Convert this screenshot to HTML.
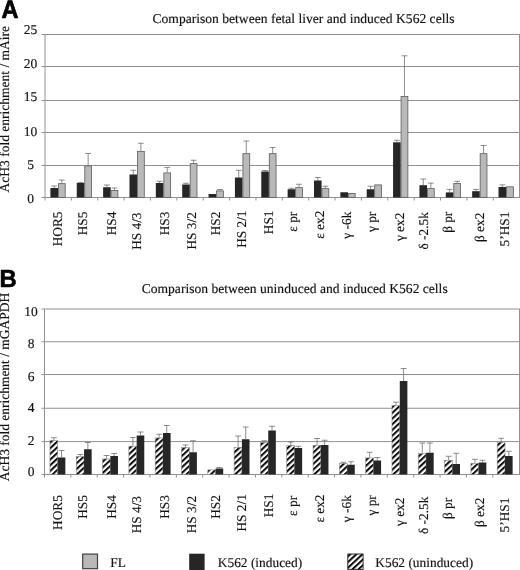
<!DOCTYPE html>
<html><head><meta charset="utf-8"><title>Figure</title>
<style>
html,body{margin:0;padding:0;background:#fff;}
body{width:520px;height:570px;overflow:hidden;}
svg{display:block;will-change:transform;}
text{font-family:"Liberation Serif",serif;fill:#111;stroke:#111;stroke-width:0.15px;text-rendering:geometricPrecision;}
.b{font-family:"Liberation Sans",sans-serif;font-weight:bold;fill:#000;stroke:#000;stroke-width:0.35px;}
</style></head><body>
<svg width="520" height="570" viewBox="0 0 520 570">
<defs><pattern id="h" width="4.15" height="4.15" patternUnits="userSpaceOnUse" patternTransform="rotate(-43)"><rect width="4.15" height="4.15" fill="#fff"/><rect width="4.15" height="2" fill="#0a0a0a"/></pattern></defs>
<rect width="520" height="570" fill="#fff"/>
<g>
<line x1="41.5" y1="34.5" x2="520" y2="34.5" stroke="#909090" stroke-width="1"/>
<line x1="41.5" y1="66.5" x2="520" y2="66.5" stroke="#909090" stroke-width="1"/>
<line x1="41.5" y1="100.5" x2="520" y2="100.5" stroke="#909090" stroke-width="1"/>
<line x1="41.5" y1="132.5" x2="520" y2="132.5" stroke="#909090" stroke-width="1"/>
<line x1="41.5" y1="165.5" x2="520" y2="165.5" stroke="#909090" stroke-width="1"/>
<line x1="41.5" y1="197.5" x2="520" y2="197.5" stroke="#909090" stroke-width="1"/>
<line x1="45" y1="34.5" x2="45" y2="200.5" stroke="#909090" stroke-width="1"/>
<line x1="519.5" y1="34.5" x2="519.5" y2="197.5" stroke="#909090" stroke-width="1"/>
<line x1="71.37" y1="197.5" x2="71.37" y2="200.5" stroke="#909090" stroke-width="1"/>
<line x1="97.74" y1="197.5" x2="97.74" y2="200.5" stroke="#909090" stroke-width="1"/>
<line x1="124.11" y1="197.5" x2="124.11" y2="200.5" stroke="#909090" stroke-width="1"/>
<line x1="150.48" y1="197.5" x2="150.48" y2="200.5" stroke="#909090" stroke-width="1"/>
<line x1="176.85" y1="197.5" x2="176.85" y2="200.5" stroke="#909090" stroke-width="1"/>
<line x1="203.22" y1="197.5" x2="203.22" y2="200.5" stroke="#909090" stroke-width="1"/>
<line x1="229.59" y1="197.5" x2="229.59" y2="200.5" stroke="#909090" stroke-width="1"/>
<line x1="255.96" y1="197.5" x2="255.96" y2="200.5" stroke="#909090" stroke-width="1"/>
<line x1="282.33" y1="197.5" x2="282.33" y2="200.5" stroke="#909090" stroke-width="1"/>
<line x1="308.7" y1="197.5" x2="308.7" y2="200.5" stroke="#909090" stroke-width="1"/>
<line x1="335.07" y1="197.5" x2="335.07" y2="200.5" stroke="#909090" stroke-width="1"/>
<line x1="361.44" y1="197.5" x2="361.44" y2="200.5" stroke="#909090" stroke-width="1"/>
<line x1="387.81" y1="197.5" x2="387.81" y2="200.5" stroke="#909090" stroke-width="1"/>
<line x1="414.18" y1="197.5" x2="414.18" y2="200.5" stroke="#909090" stroke-width="1"/>
<line x1="440.55" y1="197.5" x2="440.55" y2="200.5" stroke="#909090" stroke-width="1"/>
<line x1="466.92" y1="197.5" x2="466.92" y2="200.5" stroke="#909090" stroke-width="1"/>
<line x1="493.29" y1="197.5" x2="493.29" y2="200.5" stroke="#909090" stroke-width="1"/>
<path d="M54.2 188V186M51.3 186H57.1" stroke="#5e5e5e" stroke-width="0.7" fill="none"/><path d="M61.8 183.25V180M58.9 180H64.7" stroke="#5e5e5e" stroke-width="0.7" fill="none"/><rect x="50.4" y="188" width="7.6" height="9.5" fill="#262626"/><rect x="58.4" y="183.65" width="6.8" height="13.85" fill="#b9b9b9" stroke="#5c5c5c" stroke-width="0.8"/>
<path d="M80.56 183V182.5M77.66 182.5H83.46" stroke="#5e5e5e" stroke-width="0.7" fill="none"/><path d="M88.16 165.5V153.5M85.26 153.5H91.06" stroke="#5e5e5e" stroke-width="0.7" fill="none"/><rect x="76.76" y="183" width="7.6" height="14.5" fill="#262626"/><rect x="84.76" y="165.9" width="6.8" height="31.6" fill="#b9b9b9" stroke="#5c5c5c" stroke-width="0.8"/>
<path d="M106.92 187.25V185M104.02 185H109.82" stroke="#5e5e5e" stroke-width="0.7" fill="none"/><path d="M114.52 190V188M111.62 188H117.42" stroke="#5e5e5e" stroke-width="0.7" fill="none"/><rect x="103.12" y="187.25" width="7.6" height="10.25" fill="#262626"/><rect x="111.12" y="190.4" width="6.8" height="7.1" fill="#b9b9b9" stroke="#5c5c5c" stroke-width="0.8"/>
<path d="M133.28 174.5V170.25M130.38 170.25H136.18" stroke="#5e5e5e" stroke-width="0.7" fill="none"/><path d="M140.88 151V143.25M137.98 143.25H143.78" stroke="#5e5e5e" stroke-width="0.7" fill="none"/><rect x="129.48" y="174.5" width="7.6" height="23" fill="#262626"/><rect x="137.48" y="151.4" width="6.8" height="46.1" fill="#b9b9b9" stroke="#5c5c5c" stroke-width="0.8"/>
<path d="M159.64 183V181.25M156.74 181.25H162.54" stroke="#5e5e5e" stroke-width="0.7" fill="none"/><path d="M167.24 172.5V167.4M164.34 167.4H170.14" stroke="#5e5e5e" stroke-width="0.7" fill="none"/><rect x="155.84" y="183" width="7.6" height="14.5" fill="#262626"/><rect x="163.84" y="172.9" width="6.8" height="24.6" fill="#b9b9b9" stroke="#5c5c5c" stroke-width="0.8"/>
<path d="M186 184.5V183.25M183.1 183.25H188.9" stroke="#5e5e5e" stroke-width="0.7" fill="none"/><path d="M193.6 163.25V160.25M190.7 160.25H196.5" stroke="#5e5e5e" stroke-width="0.7" fill="none"/><rect x="182.2" y="184.5" width="7.6" height="13" fill="#262626"/><rect x="190.2" y="163.65" width="6.8" height="33.85" fill="#b9b9b9" stroke="#5c5c5c" stroke-width="0.8"/>
<path d="M219.96 190.5V189.5M217.06 189.5H222.86" stroke="#5e5e5e" stroke-width="0.7" fill="none"/><rect x="208.56" y="194" width="7.6" height="3.5" fill="#262626"/><rect x="216.56" y="190.9" width="6.8" height="6.6" fill="#b9b9b9" stroke="#5c5c5c" stroke-width="0.8"/>
<path d="M238.72 177.5V170.25M235.82 170.25H241.62" stroke="#5e5e5e" stroke-width="0.7" fill="none"/><path d="M246.32 153.25V141M243.42 141H249.22" stroke="#5e5e5e" stroke-width="0.7" fill="none"/><rect x="234.92" y="177.5" width="7.6" height="20" fill="#262626"/><rect x="242.92" y="153.65" width="6.8" height="43.85" fill="#b9b9b9" stroke="#5c5c5c" stroke-width="0.8"/>
<path d="M265.08 171.5V170.5M262.18 170.5H267.98" stroke="#5e5e5e" stroke-width="0.7" fill="none"/><path d="M272.68 153.25V147.5M269.78 147.5H275.58" stroke="#5e5e5e" stroke-width="0.7" fill="none"/><rect x="261.28" y="171.5" width="7.6" height="26" fill="#262626"/><rect x="269.28" y="153.65" width="6.8" height="43.85" fill="#b9b9b9" stroke="#5c5c5c" stroke-width="0.8"/>
<path d="M291.44 189.25V188.25M288.54 188.25H294.34" stroke="#5e5e5e" stroke-width="0.7" fill="none"/><path d="M299.04 187.25V184.25M296.14 184.25H301.94" stroke="#5e5e5e" stroke-width="0.7" fill="none"/><rect x="287.64" y="189.25" width="7.6" height="8.25" fill="#262626"/><rect x="295.64" y="187.65" width="6.8" height="9.85" fill="#b9b9b9" stroke="#5c5c5c" stroke-width="0.8"/>
<path d="M317.8 180.5V177.5M314.9 177.5H320.7" stroke="#5e5e5e" stroke-width="0.7" fill="none"/><path d="M325.4 188.25V186.25M322.5 186.25H328.3" stroke="#5e5e5e" stroke-width="0.7" fill="none"/><rect x="314" y="180.5" width="7.6" height="17" fill="#262626"/><rect x="322" y="188.65" width="6.8" height="8.85" fill="#b9b9b9" stroke="#5c5c5c" stroke-width="0.8"/>
<rect x="340.36" y="192.25" width="7.6" height="5.25" fill="#262626"/><rect x="348.36" y="193.4" width="6.8" height="4.1" fill="#b9b9b9" stroke="#5c5c5c" stroke-width="0.8"/>
<path d="M370.52 189.25V186.25M367.62 186.25H373.42" stroke="#5e5e5e" stroke-width="0.7" fill="none"/><rect x="366.72" y="189.25" width="7.6" height="8.25" fill="#262626"/><rect x="374.72" y="184.9" width="6.8" height="12.6" fill="#b9b9b9" stroke="#5c5c5c" stroke-width="0.8"/>
<path d="M396.88 142.3V140.25M393.98 140.25H399.78" stroke="#5e5e5e" stroke-width="0.7" fill="none"/><path d="M404.48 96.05V55.8M401.58 55.8H407.38" stroke="#5e5e5e" stroke-width="0.7" fill="none"/><rect x="393.08" y="142.3" width="7.6" height="55.2" fill="#262626"/><rect x="401.08" y="96.45" width="6.8" height="101.05" fill="#b9b9b9" stroke="#5c5c5c" stroke-width="0.8"/>
<path d="M423.24 185.2V179M420.34 179H426.14" stroke="#5e5e5e" stroke-width="0.7" fill="none"/><path d="M430.84 188.2V183.1M427.94 183.1H433.74" stroke="#5e5e5e" stroke-width="0.7" fill="none"/><rect x="419.44" y="185.2" width="7.6" height="12.3" fill="#262626"/><rect x="427.44" y="188.6" width="6.8" height="8.9" fill="#b9b9b9" stroke="#5c5c5c" stroke-width="0.8"/>
<path d="M449.6 192.4V189.4M446.7 189.4H452.5" stroke="#5e5e5e" stroke-width="0.7" fill="none"/><path d="M457.2 183.1V181.3M454.3 181.3H460.1" stroke="#5e5e5e" stroke-width="0.7" fill="none"/><rect x="445.8" y="192.4" width="7.6" height="5.1" fill="#262626"/><rect x="453.8" y="183.5" width="6.8" height="14" fill="#b9b9b9" stroke="#5c5c5c" stroke-width="0.8"/>
<path d="M475.96 191.2V189.4M473.06 189.4H478.86" stroke="#5e5e5e" stroke-width="0.7" fill="none"/><path d="M483.56 153.3V145.5M480.66 145.5H486.46" stroke="#5e5e5e" stroke-width="0.7" fill="none"/><rect x="472.16" y="191.2" width="7.6" height="6.3" fill="#262626"/><rect x="480.16" y="153.7" width="6.8" height="43.8" fill="#b9b9b9" stroke="#5c5c5c" stroke-width="0.8"/>
<path d="M502.32 187V184.9M499.42 184.9H505.22" stroke="#5e5e5e" stroke-width="0.7" fill="none"/><rect x="498.52" y="187" width="7.6" height="10.5" fill="#262626"/><rect x="506.52" y="186.8" width="6.8" height="10.7" fill="#b9b9b9" stroke="#5c5c5c" stroke-width="0.8"/>
</g>
<g>
<line x1="41.5" y1="309" x2="520" y2="309" stroke="#909090" stroke-width="1"/>
<line x1="41.5" y1="341.75" x2="520" y2="341.75" stroke="#909090" stroke-width="1"/>
<line x1="41.5" y1="374.5" x2="520" y2="374.5" stroke="#909090" stroke-width="1"/>
<line x1="41.5" y1="408.25" x2="520" y2="408.25" stroke="#909090" stroke-width="1"/>
<line x1="41.5" y1="441.6" x2="520" y2="441.6" stroke="#909090" stroke-width="1"/>
<line x1="41.5" y1="474.5" x2="520" y2="474.5" stroke="#909090" stroke-width="1"/>
<line x1="44.5" y1="309" x2="44.5" y2="477.5" stroke="#909090" stroke-width="1"/>
<line x1="519.5" y1="309" x2="519.5" y2="474.5" stroke="#909090" stroke-width="1"/>
<line x1="70.87" y1="474.5" x2="70.87" y2="477.5" stroke="#909090" stroke-width="1"/>
<line x1="97.24" y1="474.5" x2="97.24" y2="477.5" stroke="#909090" stroke-width="1"/>
<line x1="123.61" y1="474.5" x2="123.61" y2="477.5" stroke="#909090" stroke-width="1"/>
<line x1="149.98" y1="474.5" x2="149.98" y2="477.5" stroke="#909090" stroke-width="1"/>
<line x1="176.35" y1="474.5" x2="176.35" y2="477.5" stroke="#909090" stroke-width="1"/>
<line x1="202.72" y1="474.5" x2="202.72" y2="477.5" stroke="#909090" stroke-width="1"/>
<line x1="229.09" y1="474.5" x2="229.09" y2="477.5" stroke="#909090" stroke-width="1"/>
<line x1="255.46" y1="474.5" x2="255.46" y2="477.5" stroke="#909090" stroke-width="1"/>
<line x1="281.83" y1="474.5" x2="281.83" y2="477.5" stroke="#909090" stroke-width="1"/>
<line x1="308.2" y1="474.5" x2="308.2" y2="477.5" stroke="#909090" stroke-width="1"/>
<line x1="334.57" y1="474.5" x2="334.57" y2="477.5" stroke="#909090" stroke-width="1"/>
<line x1="360.94" y1="474.5" x2="360.94" y2="477.5" stroke="#909090" stroke-width="1"/>
<line x1="387.31" y1="474.5" x2="387.31" y2="477.5" stroke="#909090" stroke-width="1"/>
<line x1="413.68" y1="474.5" x2="413.68" y2="477.5" stroke="#909090" stroke-width="1"/>
<line x1="440.05" y1="474.5" x2="440.05" y2="477.5" stroke="#909090" stroke-width="1"/>
<line x1="466.42" y1="474.5" x2="466.42" y2="477.5" stroke="#909090" stroke-width="1"/>
<line x1="492.79" y1="474.5" x2="492.79" y2="477.5" stroke="#909090" stroke-width="1"/>
<path d="M53.95 440V437.75M51.05 437.75H56.85" stroke="#5e5e5e" stroke-width="0.7" fill="none"/><path d="M61.55 457.5V450.5M58.65 450.5H64.45" stroke="#5e5e5e" stroke-width="0.7" fill="none"/><rect x="49.95" y="440.4" width="7.8" height="34.1" fill="url(#h)" stroke="#888" stroke-width="0.6"/><rect x="57.75" y="457.5" width="7.6" height="17" fill="#262626"/>
<path d="M80.26 456.25V454.5M77.36 454.5H83.16" stroke="#5e5e5e" stroke-width="0.7" fill="none"/><path d="M87.86 449.25V442.5M84.96 442.5H90.76" stroke="#5e5e5e" stroke-width="0.7" fill="none"/><rect x="76.26" y="456.65" width="7.8" height="17.85" fill="url(#h)" stroke="#888" stroke-width="0.6"/><rect x="84.06" y="449.25" width="7.6" height="25.25" fill="#262626"/>
<path d="M106.57 458.5V455.5M103.67 455.5H109.47" stroke="#5e5e5e" stroke-width="0.7" fill="none"/><path d="M114.17 456V453.5M111.27 453.5H117.07" stroke="#5e5e5e" stroke-width="0.7" fill="none"/><rect x="102.57" y="458.9" width="7.8" height="15.6" fill="url(#h)" stroke="#888" stroke-width="0.6"/><rect x="110.37" y="456" width="7.6" height="18.5" fill="#262626"/>
<path d="M132.88 445.75V437.5M129.98 437.5H135.78" stroke="#5e5e5e" stroke-width="0.7" fill="none"/><path d="M140.48 435.5V432M137.58 432H143.38" stroke="#5e5e5e" stroke-width="0.7" fill="none"/><rect x="128.88" y="446.15" width="7.8" height="28.35" fill="url(#h)" stroke="#888" stroke-width="0.6"/><rect x="136.68" y="435.5" width="7.6" height="39" fill="#262626"/>
<path d="M159.19 437.5V434.25M156.29 434.25H162.09" stroke="#5e5e5e" stroke-width="0.7" fill="none"/><path d="M166.79 433V425.5M163.89 425.5H169.69" stroke="#5e5e5e" stroke-width="0.7" fill="none"/><rect x="155.19" y="437.9" width="7.8" height="36.6" fill="url(#h)" stroke="#888" stroke-width="0.6"/><rect x="162.99" y="433" width="7.6" height="41.5" fill="#262626"/>
<path d="M185.5 447V445M182.6 445H188.4" stroke="#5e5e5e" stroke-width="0.7" fill="none"/><path d="M193.1 452.25V440.75M190.2 440.75H196" stroke="#5e5e5e" stroke-width="0.7" fill="none"/><rect x="181.5" y="447.4" width="7.8" height="27.1" fill="url(#h)" stroke="#888" stroke-width="0.6"/><rect x="189.3" y="452.25" width="7.6" height="22.25" fill="#262626"/>
<path d="M219.41 468.5V467.5M216.51 467.5H222.31" stroke="#5e5e5e" stroke-width="0.7" fill="none"/><rect x="207.81" y="469.9" width="7.8" height="4.6" fill="url(#h)" stroke="#888" stroke-width="0.6"/><rect x="215.61" y="468.5" width="7.6" height="6" fill="#262626"/>
<path d="M238.12 447V436M235.22 436H241.02" stroke="#5e5e5e" stroke-width="0.7" fill="none"/><path d="M245.72 439.25V427M242.82 427H248.62" stroke="#5e5e5e" stroke-width="0.7" fill="none"/><rect x="234.12" y="447.4" width="7.8" height="27.1" fill="url(#h)" stroke="#888" stroke-width="0.6"/><rect x="241.92" y="439.25" width="7.6" height="35.25" fill="#262626"/>
<path d="M264.43 442V440.75M261.53 440.75H267.33" stroke="#5e5e5e" stroke-width="0.7" fill="none"/><path d="M272.03 430.5V426.25M269.13 426.25H274.93" stroke="#5e5e5e" stroke-width="0.7" fill="none"/><rect x="260.43" y="442.4" width="7.8" height="32.1" fill="url(#h)" stroke="#888" stroke-width="0.6"/><rect x="268.23" y="430.5" width="7.6" height="44" fill="#262626"/>
<path d="M290.74 445V442M287.84 442H293.64" stroke="#5e5e5e" stroke-width="0.7" fill="none"/><path d="M298.34 448V446.25M295.44 446.25H301.24" stroke="#5e5e5e" stroke-width="0.7" fill="none"/><rect x="286.74" y="445.4" width="7.8" height="29.1" fill="url(#h)" stroke="#888" stroke-width="0.6"/><rect x="294.54" y="448" width="7.6" height="26.5" fill="#262626"/>
<path d="M317.05 445V438.5M314.15 438.5H319.95" stroke="#5e5e5e" stroke-width="0.7" fill="none"/><path d="M324.65 445V440.25M321.75 440.25H327.55" stroke="#5e5e5e" stroke-width="0.7" fill="none"/><rect x="313.05" y="445.4" width="7.8" height="29.1" fill="url(#h)" stroke="#888" stroke-width="0.6"/><rect x="320.85" y="445" width="7.6" height="29.5" fill="#262626"/>
<path d="M343.36 463V462.3M340.46 462.3H346.26" stroke="#5e5e5e" stroke-width="0.7" fill="none"/><path d="M350.96 464.75V461.75M348.06 461.75H353.86" stroke="#5e5e5e" stroke-width="0.7" fill="none"/><rect x="339.36" y="463.4" width="7.8" height="11.1" fill="url(#h)" stroke="#888" stroke-width="0.6"/><rect x="347.16" y="464.75" width="7.6" height="9.75" fill="#262626"/>
<path d="M369.67 457.5V452.25M366.77 452.25H372.57" stroke="#5e5e5e" stroke-width="0.7" fill="none"/><path d="M377.27 460.5V457.5M374.37 457.5H380.17" stroke="#5e5e5e" stroke-width="0.7" fill="none"/><rect x="365.67" y="457.9" width="7.8" height="16.6" fill="url(#h)" stroke="#888" stroke-width="0.6"/><rect x="373.47" y="460.5" width="7.6" height="14" fill="#262626"/>
<path d="M395.98 405V402.1M393.08 402.1H398.88" stroke="#5e5e5e" stroke-width="0.7" fill="none"/><path d="M403.58 381V368.5M400.68 368.5H406.48" stroke="#5e5e5e" stroke-width="0.7" fill="none"/><rect x="391.98" y="405.4" width="7.8" height="69.1" fill="url(#h)" stroke="#888" stroke-width="0.6"/><rect x="399.78" y="381" width="7.6" height="93.5" fill="#262626"/>
<path d="M422.29 453.25V443M419.39 443H425.19" stroke="#5e5e5e" stroke-width="0.7" fill="none"/><path d="M429.89 452.75V443M426.99 443H432.79" stroke="#5e5e5e" stroke-width="0.7" fill="none"/><rect x="418.29" y="453.65" width="7.8" height="20.85" fill="url(#h)" stroke="#888" stroke-width="0.6"/><rect x="426.09" y="452.75" width="7.6" height="21.75" fill="#262626"/>
<path d="M448.6 460V456.25M445.7 456.25H451.5" stroke="#5e5e5e" stroke-width="0.7" fill="none"/><path d="M456.2 464V453.25M453.3 453.25H459.1" stroke="#5e5e5e" stroke-width="0.7" fill="none"/><rect x="444.6" y="460.4" width="7.8" height="14.1" fill="url(#h)" stroke="#888" stroke-width="0.6"/><rect x="452.4" y="464" width="7.6" height="10.5" fill="#262626"/>
<path d="M474.91 463V459.25M472.01 459.25H477.81" stroke="#5e5e5e" stroke-width="0.7" fill="none"/><path d="M482.51 462.5V460.25M479.61 460.25H485.41" stroke="#5e5e5e" stroke-width="0.7" fill="none"/><rect x="470.91" y="463.4" width="7.8" height="11.1" fill="url(#h)" stroke="#888" stroke-width="0.6"/><rect x="478.71" y="462.5" width="7.6" height="12" fill="#262626"/>
<path d="M501.22 441.75V438.25M498.32 438.25H504.12" stroke="#5e5e5e" stroke-width="0.7" fill="none"/><path d="M508.82 456V451.25M505.92 451.25H511.72" stroke="#5e5e5e" stroke-width="0.7" fill="none"/><rect x="497.22" y="442.15" width="7.8" height="32.35" fill="url(#h)" stroke="#888" stroke-width="0.6"/><rect x="505.02" y="456" width="7.6" height="18.5" fill="#262626"/>
</g>
<g font-size="13.5">
<text class="b" transform="translate(1.55 18.05) scale(0.93 1)" font-size="25.3" style="stroke-width:0.7px">A</text>
<text class="b" transform="translate(-0.4 287.2) scale(0.97 1)" font-size="24.6" style="stroke-width:0.6px">B</text>
<text x="152.5" y="23.2" textLength="302" lengthAdjust="spacingAndGlyphs">Comparison between fetal liver and induced K562 cells</text>
<text x="141.7" y="292.8" textLength="306" lengthAdjust="spacingAndGlyphs">Comparison between uninduced and induced K562 cells</text>
<text transform="translate(8.8 192.4) rotate(-90)" textLength="166.5" lengthAdjust="spacingAndGlyphs">AcH3 fold enrichment / mAire</text>
<text transform="translate(8.8 481.2) rotate(-90)" textLength="188.3" lengthAdjust="spacingAndGlyphs">AcH3 fold enrichment / mGAPDH</text>
<text x="30.5" y="33.9" text-anchor="middle">25</text><text x="30.5" y="67.7" text-anchor="middle">20</text><text x="30.5" y="101.3" text-anchor="middle">15</text><text x="30.5" y="135.5" text-anchor="middle">10</text><text x="30.5" y="169.3" text-anchor="middle">5</text><text x="30.5" y="203" text-anchor="middle">0</text>
<text x="31" y="316" text-anchor="middle">10</text><text x="31" y="348" text-anchor="middle">8</text><text x="31" y="380.5" text-anchor="middle">6</text><text x="31" y="412.2" text-anchor="middle">4</text><text x="31" y="444.5" text-anchor="middle">2</text><text x="31" y="476" text-anchor="middle">0</text>
<text transform="translate(61.7 211.5) rotate(-90)" text-anchor="end" font-size="13.3">HOR5</text><text transform="translate(86.9 211.7) rotate(-90)" text-anchor="end" font-size="13.3">HS5</text><text transform="translate(116.2 211.7) rotate(-90)" text-anchor="end" font-size="13.3">HS4</text><text transform="translate(141.2 212.5) rotate(-90)" text-anchor="end" font-size="13.3">HS 4/3</text><text transform="translate(169 211.7) rotate(-90)" text-anchor="end" font-size="13.3">HS3</text><text transform="translate(195.5 212.2) rotate(-90)" text-anchor="end" font-size="13.3">HS 3/2</text><text transform="translate(219.8 211.7) rotate(-90)" text-anchor="end" font-size="13.3">HS2</text><text transform="translate(245.9 210.5) rotate(-90)" text-anchor="end" font-size="13.3">HS 2/1</text><text transform="translate(272.7 210.5) rotate(-90)" text-anchor="end" font-size="13.3">HS1</text><text transform="translate(297.4 211.7) rotate(-90)" text-anchor="end" font-size="13.3">ε pr</text><text transform="translate(324.3 210.7) rotate(-90)" text-anchor="end" font-size="13.3">ε ex2</text><text transform="translate(351.4 211.7) rotate(-90)" text-anchor="end" font-size="13.3">γ -6k</text><text transform="translate(376.3 211.7) rotate(-90)" text-anchor="end" font-size="13.3">γ pr</text><text transform="translate(404.1 212.7) rotate(-90)" text-anchor="end" font-size="13.3">γ ex2</text><text transform="translate(428.4 212.2) rotate(-90)" text-anchor="end" font-size="13.3">δ -2.5k</text><text transform="translate(452.2 211.7) rotate(-90)" text-anchor="end" font-size="13.3">β pr</text><text transform="translate(483.6 212.7) rotate(-90)" text-anchor="end" font-size="13.3">β ex2</text><text transform="translate(509.2 211.7) rotate(-90)" text-anchor="end" font-size="13.3">5’HS1</text>
<text transform="translate(61.7 495.2) rotate(-90)" text-anchor="end" font-size="13.3">HOR5</text><text transform="translate(86.9 495.2) rotate(-90)" text-anchor="end" font-size="13.3">HS5</text><text transform="translate(116.2 495.2) rotate(-90)" text-anchor="end" font-size="13.3">HS4</text><text transform="translate(141.2 496) rotate(-90)" text-anchor="end" font-size="13.3">HS 4/3</text><text transform="translate(169 495.2) rotate(-90)" text-anchor="end" font-size="13.3">HS3</text><text transform="translate(195.5 495.95) rotate(-90)" text-anchor="end" font-size="13.3">HS 3/2</text><text transform="translate(219.8 495.2) rotate(-90)" text-anchor="end" font-size="13.3">HS2</text><text transform="translate(245.9 494.2) rotate(-90)" text-anchor="end" font-size="13.3">HS 2/1</text><text transform="translate(272.7 493.7) rotate(-90)" text-anchor="end" font-size="13.3">HS1</text><text transform="translate(297.4 495.9) rotate(-90)" text-anchor="end" font-size="13.3">ε pr</text><text transform="translate(324.3 494.5) rotate(-90)" text-anchor="end" font-size="13.3">ε ex2</text><text transform="translate(351.4 495.2) rotate(-90)" text-anchor="end" font-size="13.3">γ -6k</text><text transform="translate(376.3 495.2) rotate(-90)" text-anchor="end" font-size="13.3">γ pr</text><text transform="translate(404.1 497.5) rotate(-90)" text-anchor="end" font-size="13.3">γ ex2</text><text transform="translate(428.4 496.7) rotate(-90)" text-anchor="end" font-size="13.3">δ -2.5k</text><text transform="translate(452.2 497.9) rotate(-90)" text-anchor="end" font-size="13.3">β pr</text><text transform="translate(483.6 497.7) rotate(-90)" text-anchor="end" font-size="13.3">β ex2</text><text transform="translate(509.2 497.7) rotate(-90)" text-anchor="end" font-size="13.3">5’HS1</text>
<rect x="82.7" y="554.1" width="14.8" height="14.6" fill="#b9b9b9" stroke="#404040" stroke-width="1.2"/><text x="110.2" y="567" font-size="13.4">FL</text>
<rect x="189.2" y="553.7" width="15.4" height="16.3" fill="#262626"/><text x="217.8" y="567" font-size="13.4">K562 (induced)</text>
<rect x="347.8" y="554" width="15.3" height="15.4" fill="url(#h)" stroke="#222" stroke-width="0.9"/><text x="375.3" y="567" font-size="13.4">K562 (uninduced)</text>
</g>
</svg>
</body></html>
